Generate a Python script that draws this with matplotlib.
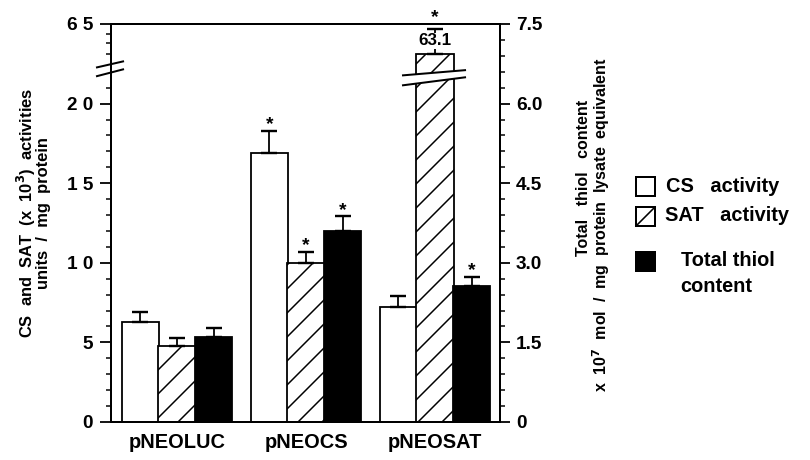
import numpy as np
import matplotlib
matplotlib.use('Agg')
import matplotlib.pyplot as plt
from matplotlib.patches import Rectangle, Polygon
from matplotlib.lines import Line2D
import matplotlib.transforms as mtransforms
from matplotlib.ticker import FixedLocator

# ---------------- data ----------------
groups = ['pNEOLUC', 'pNEOCS', 'pNEOSAT']
cs_activity = [6.3, 16.9, 7.2]
cs_err = [0.6, 1.4, 0.7]
sat_activity = [4.8, 10.0, 63.1]
sat_err = [0.45, 0.7, 1.6]
thiol_content = [1.6, 3.6, 2.56]
thiol_err = [0.18, 0.28, 0.18]
cs_sig = [False, True, False]
sat_sig = [False, True, True]
thiol_sig = [False, True, True]
left_ticks = [0, 5, 10, 15, 20, 65]
left_ticklabels = ['0', '5', '1 0', '1 5', '2 0', '6 5']
right_ticks = [0, 1.5, 3.0, 4.5, 6.0, 7.5]
right_ticklabels = ['0', '1.5', '3.0', '4.5', '6.0', '7.5']
big_label = '63.1'

plt.rcParams['font.family'] = ['Liberation Sans', 'DejaVu Sans']
plt.rcParams['font.weight'] = 'bold'
plt.rcParams['hatch.linewidth'] = 1.5

DPI = 72
fig = plt.figure(figsize=(810 / DPI, 460 / DPI), dpi=DPI)
ax = fig.add_axes([111 / 810, 1 - 422 / 460, 389 / 810, 398 / 460])

# broken y scale: 0..22 linear, then jumps to 62..65
LOW, HIGH = 22.0, 62.0
def fwd(v):
    v = np.asarray(v, dtype=float)
    return np.where(v <= LOW, v, np.where(v >= HIGH, v - (HIGH - LOW), LOW))
def inv(p):
    p = np.asarray(p, dtype=float)
    return np.where(p <= LOW, p, p + (HIGH - LOW))
ax.set_yscale('function', functions=(fwd, inv))
ax.set_ylim(0, 65)

x = np.arange(len(groups))
w = 0.29
off = 0.285
ax.set_xlim(-0.512, 2.504)

lw = 1.8
ax.bar(x - off, cs_activity, w, color='white', edgecolor='black', linewidth=lw, zorder=2)
ax.bar(x, sat_activity, w, color='white', edgecolor='black', hatch='/', linewidth=lw, zorder=2)
ek = dict(fmt='none', ecolor='black', elinewidth=1.8, capsize=8, capthick=2.4, zorder=3)
ax.errorbar(x - off, cs_activity, yerr=[np.zeros(3), cs_err], **ek)
ax.errorbar(x, sat_activity, yerr=[np.zeros(3), sat_err], **ek)

ax2 = ax.twinx()
ax2.set_ylim(0, 7.5)
ax2.bar(x + off, thiol_content, w, color='black', edgecolor='black', linewidth=lw, zorder=2)
ax2.errorbar(x + off, thiol_content, yerr=[np.zeros(3), thiol_err], **ek)

star_kw = dict(textcoords='offset points', ha='center', va='center', fontsize=19,
               fontweight='bold', annotation_clip=False)
for i in range(3):
    if cs_sig[i]:
        ax.annotate('*', (x[i] - off, cs_activity[i] + cs_err[i]), xytext=(0, 6), **star_kw)
    if sat_sig[i]:
        dy = 11 if sat_activity[i] > HIGH else 6
        ax.annotate('*', (x[i], sat_activity[i] + sat_err[i]), xytext=(0, dy), **star_kw)
    if thiol_sig[i]:
        ax2.annotate('*', (x[i] + off, thiol_content[i] + thiol_err[i]), xytext=(0, 6), **star_kw)

# value label for the broken bar
ax.text(x[2], 63.95, big_label, ha='center', va='center', fontsize=17, fontweight='bold',
        bbox=dict(facecolor='white', edgecolor='none', pad=0.5), zorder=6)

# break marks on the tall bar
bt = mtransforms.blended_transform_factory(ax.transData, ax.transAxes)
xa, xb = x[2] - 0.248, x[2] + 0.233
poly = Polygon([[xa, 0.846], [xb, 0.866], [xb, 0.884], [xa, 0.871]], closed=True,
               facecolor='white', edgecolor='none', transform=bt, zorder=4, clip_on=False)
ax.add_patch(poly)
for (y1, y2) in [(0.846, 0.866), (0.871, 0.884)]:
    ax.add_line(Line2D([xa, xb], [y1, y2], color='black', lw=2, transform=bt, zorder=5, clip_on=False))

# break marks on the left axis
at = ax.transAxes
pa, pb = -0.036, 0.031
poly2 = Polygon([[pa, 0.869], [pb, 0.886], [pb, 0.906], [pa, 0.891]], closed=True,
                facecolor='white', edgecolor='none', transform=at, zorder=4, clip_on=False)
ax.add_patch(poly2)
for (y1, y2) in [(0.869, 0.886), (0.891, 0.906)]:
    ax.add_line(Line2D([pa, pb], [y1, y2], color='black', lw=2, transform=at, zorder=5, clip_on=False))

# ticks
ax.yaxis.set_major_locator(FixedLocator(left_ticks))
ax.set_yticklabels(left_ticklabels)
minor_left = [m for m in range(1, 22) if m % 5 != 0] + [63.1, 63.8, 64.4]
ax.yaxis.set_minor_locator(FixedLocator(minor_left))
ax.tick_params(axis='y', which='major', direction='out', length=11, width=1.8, pad=7, labelsize=19)
ax.tick_params(axis='y', which='minor', direction='out', length=5, width=1.5)
ax.set_xticks(x)
ax.set_xticklabels(groups)
ax.tick_params(axis='x', which='both', length=0, pad=11, labelsize=20)

ax2.set_yticks(right_ticks)
ax2.set_yticklabels(right_ticklabels)
ax2.yaxis.set_minor_locator(FixedLocator(np.arange(0.3, 7.5, 0.3)))
ax2.tick_params(axis='y', which='major', direction='out', length=10, width=1.8, pad=6, labelsize=19)
ax2.tick_params(axis='y', which='minor', direction='out', length=5, width=1.5)
for t in ax.get_yticklabels() + ax2.get_yticklabels() + ax.get_xticklabels():
    t.set_fontweight('bold')

for a in (ax, ax2):
    for s in a.spines.values():
        s.set_linewidth(2.0)

# axis labels
fig.text(33 / 810, 1 - 213 / 460,
         'CS  and  SAT  (x  10$^{\\mathbf{3}}$)  activities\nunits  /  mg  protein',
         rotation=90, ha='center', va='center', fontsize=16.5, fontweight='bold',
         linespacing=0.85, multialignment='center')
fig.text(584 / 810, 1 - 178 / 460, 'Total   thiol   content',
         rotation=90, ha='center', va='center', fontsize=16, fontweight='bold')
fig.text(601 / 810, 1 - 225 / 460, 'x  10$^{\\mathbf{7}}$  mol  /  mg  protein  lysate  equivalent',
         rotation=90, ha='center', va='center', fontsize=16, fontweight='bold')

# legend (manual)
def fx(px):
    return px / 810
def fy(py):
    return 1 - py / 460
sq = 19
fig.add_artist(Rectangle((fx(636), fy(196)), sq / 810, sq / 460, facecolor='white',
                         edgecolor='black', lw=2, transform=fig.transFigure))
fig.add_artist(Rectangle((fx(636), fy(226)), sq / 810, sq / 460, facecolor='white',
                         edgecolor='black', lw=2, transform=fig.transFigure))
fig.add_artist(Line2D([fx(636), fx(636 + sq)], [fy(226), fy(226 - sq)], color='black', lw=1.6,
                      transform=fig.transFigure))
fig.add_artist(Rectangle((fx(636), fy(271)), sq / 810, sq / 460, facecolor='black',
                         edgecolor='black', lw=2, transform=fig.transFigure))
lkw = dict(fontsize=20, fontweight='bold', va='center', ha='left')
fig.text(fx(666), fy(186), 'CS   activity', **lkw)
fig.text(fx(665), fy(216), 'SAT   activity', **lkw)
fig.text(fx(681), fy(261), 'Total thiol', **lkw)
fig.text(fx(680), fy(287), 'content', **lkw)

fig.savefig('out.png', dpi=DPI)
